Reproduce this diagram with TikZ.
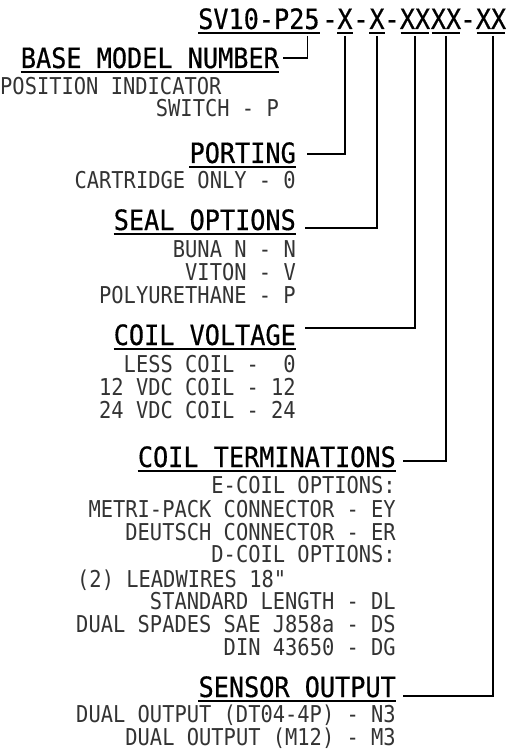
\documentclass[tikz,border=0pt]{standalone}
\usepackage{fontspec}
\newfontface\bodyfont{DejaVu Sans Mono}[FakeStretch=0.88]
\newfontface\headfont{DejaVu Sans Mono}[FakeBold=0.5,FakeStretch=0.9]
\begin{document}
\begin{tikzpicture}[x=1pt,y=-1pt,
  code/.style={inner sep=0pt,anchor=base,font=\headfont\fontsize{28}{28}\selectfont},
  codeW/.style={code,anchor=base west},
  head/.style={inner sep=0pt,anchor=base east,font=\headfont\fontsize{28}{28}\selectfont},
  body/.style={inner sep=0pt,anchor=base east,text=black!80,font=\bodyfont\fontsize{23.2}{24}\selectfont},
  bodyW/.style={body,anchor=base west},
  uline/.style={line width=1.3pt},
  hline/.style={line width=1.8pt},
  conn/.style={line width=1.1pt}]
\useasboundingbox (0,0) rectangle (507,751);
% top code line
\node[codeW] (f0) at (198,29) {SV10-P25};
\node[code] (d1) at (330,29) {-};
\node[code] (f1) at (345,29) {X};
\node[code] (d2) at (361,29) {-};
\node[code] (f2) at (377,29) {X};
\node[code] (d3) at (392,29) {-};
\node[code] (f3) at (415,29) {XX};
\node[code] (f4) at (446,29) {XX};
\node[code] (d4) at (468,29) {-};
\node[code] (f5) at (491,29) {XX};
\foreach \n in {f0,f1,f2} \draw[uline] ([yshift=-4pt]\n.base west) -- ([yshift=-4pt]\n.base east);
\foreach \n in {f3,f4,f5} \draw[uline] ([xshift=1pt,yshift=-4pt]\n.base west) -- ([xshift=-1pt,yshift=-4pt]\n.base east);
% headings
\node[head] (base) at (279,68) {BASE MODEL NUMBER};
\node[head] (port) at (296,163) {PORTING};
\node[head] (seal) at (296,230) {SEAL OPTIONS};
\node[head] (volt) at (296,345) {COIL VOLTAGE};
\node[head] (term) at (396,467) {COIL TERMINATIONS};
\node[head] (sens) at (396,697) {SENSOR OUTPUT};
\foreach \n in {base,port,seal,volt,term,sens} \draw[hline] ([yshift=-4pt]\n.base west) -- ([yshift=-4pt]\n.base east);
% body texts
\node[bodyW] (b1) at (0,95) {POSITION INDICATOR};
\node[body] (b2) at (279,117) {SWITCH - P};
\node[body] (p1) at (296,189) {CARTRIDGE ONLY - 0};
\node[body] (s1) at (296,257) {BUNA N - N};
\node[body] (s2) at (296,280) {VITON - V};
\node[body] (s3) at (296,303) {POLYURETHANE - P};
\node[body] (v1) at (296,372) {LESS COIL -\ \ 0};
\node[body] (v2) at (296,395) {12 VDC COIL - 12};
\node[body] (v3) at (296,418) {24 VDC COIL - 24};
\node[body] (t1) at (396,493) {E-COIL OPTIONS:};
\node[body] (t2) at (396,517) {METRI-PACK CONNECTOR - EY};
\node[body] (t3) at (396,540) {DEUTSCH CONNECTOR - ER};
\node[body] (t4) at (396,562) {D-COIL OPTIONS:};
\node[bodyW] (t5) at (77,587) {(2) LEADWIRES 18"};
\node[body] (t6) at (396,609) {STANDARD LENGTH - DL};
\node[body] (t7) at (396,632) {DUAL SPADES SAE J858a - DS};
\node[body] (t8) at (396,655) {DIN 43650 - DG};
\node[body] (o1) at (396,722) {DUAL OUTPUT (DT04-4P) - N3};
\node[body] (o2) at (396,745) {DUAL OUTPUT (M12) - M3};
% connectors
\draw[conn] ([xshift=-12pt,yshift=-7pt]f0.base east) |- ([xshift=4pt,yshift=10pt]base.base east);
\draw[conn] ([yshift=-7pt]f1.base) |- ([xshift=11pt,yshift=9pt]port.base east);
\draw[conn] ([yshift=-7pt]f2.base) |- ([xshift=9pt,yshift=2pt]seal.base east);
\draw[conn] ([yshift=-7pt]f3.base) |- ([xshift=9pt,yshift=17pt]volt.base east);
\draw[conn] ([yshift=-7pt]f4.base) |- ([xshift=7pt,yshift=6pt]term.base east);
\draw[conn] ([xshift=2pt,yshift=-7pt]f5.base) |- ([xshift=7pt,yshift=1pt]sens.base east);
\end{tikzpicture}
\end{document}
